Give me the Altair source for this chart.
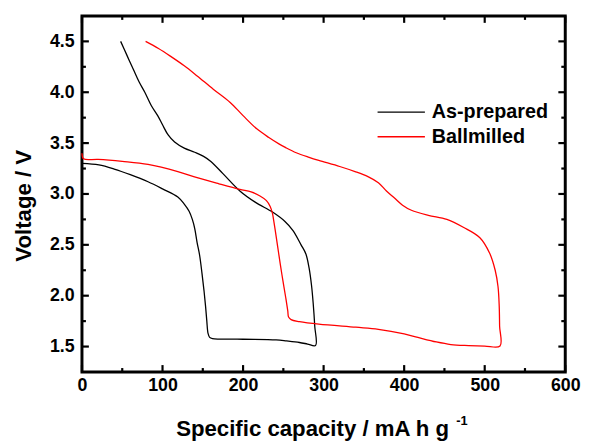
import altair as alt
import pandas as pd

# ---------------- data ----------------
series_names = ["As-prepared", "Ballmilled"]
series_colors = ["#000000", "#ff0000"]

asprep_x = [48, 56, 64, 71, 78, 86, 94, 100, 107, 115, 127, 140, 151, 160, 175, 196,
            215, 237, 252, 262, 272, 278, 282, 285, 287, 289, 290,
            280, 270, 254, 241, 200, 162, 158.5, 156.5, 155, 153.5, 151.5, 149, 146,
            143, 140, 137, 133, 127, 119, 100, 82, 60, 40, 21, 0]
asprep_y = [4.50, 4.36, 4.22, 4.10, 4.00, 3.87, 3.77, 3.68, 3.58, 3.51, 3.45, 3.41, 3.37, 3.32, 3.20, 3.03,
            2.92, 2.82, 2.73, 2.64, 2.50, 2.41, 2.27, 2.10, 1.93, 1.70, 1.51,
            1.525, 1.54, 1.555, 1.565, 1.572, 1.578, 1.59, 1.63, 1.75, 1.89, 2.05, 2.22, 2.40,
            2.52, 2.66, 2.75, 2.83, 2.90, 2.97, 3.05, 3.12, 3.19, 3.245, 3.285, 3.30]

ball_x = [79, 95, 110.6, 127, 143, 163, 184, 200, 217, 232, 245, 253, 266, 282, 294, 320, 339,
          355, 368, 378, 388, 398, 409, 430, 453, 474, 494, 506, 513, 516.5, 518, 518.5, 519,
          500, 480, 458, 440, 417, 400, 368, 340, 294, 270, 259.6, 256.5, 255.5, 253, 249.4,
          246, 243, 240, 238, 236.5, 233.5, 229, 221, 210, 196, 170, 143, 119, 82, 50, 20, 2, 0]
ball_y = [4.50, 4.43, 4.35, 4.26, 4.16, 4.03, 3.90, 3.77, 3.64, 3.555, 3.49, 3.455, 3.405, 3.36, 3.33, 3.27, 3.22,
          3.17, 3.11, 3.03, 2.96, 2.89, 2.84, 2.79, 2.75, 2.67, 2.57, 2.42, 2.25, 2.09, 1.90, 1.70, 1.505,
          1.505, 1.51, 1.52, 1.545, 1.59, 1.625, 1.67, 1.69, 1.72, 1.745, 1.765, 1.79, 1.85, 1.98, 2.15,
          2.32, 2.48, 2.64, 2.74, 2.81, 2.88, 2.935, 2.98, 3.02, 3.045, 3.10, 3.16, 3.22, 3.29, 3.32, 3.34, 3.345, 3.40]

x_major = [0, 100, 200, 300, 400, 500, 600]
x_minor = [50, 150, 250, 350, 450, 550]
y_major = [1.5, 2.0, 2.5, 3.0, 3.5, 4.0, 4.5]
y_minor = [1.75, 2.25, 2.75, 3.25, 3.75, 4.25]

# ---------------- tables ----------------
rows = []
for name, xs, ys in [(series_names[0], asprep_x, asprep_y), (series_names[1], ball_x, ball_y)]:
    for i, (xv, yv) in enumerate(zip(xs, ys)):
        rows.append({"series": name, "capacity": xv, "voltage": yv, "order": i})
df = pd.DataFrame(rows)

xt_major = pd.DataFrame({"capacity": x_major})
xt_minor = pd.DataFrame({"capacity": x_minor})
yt_major = pd.DataFrame({"voltage": y_major})
yt_minor = pd.DataFrame({"voltage": y_minor})

W, H = 490, 361
MAJ, MIN = 7, 4
FONT = "Liberation Sans"

xscale = alt.Scale(domain=[0, 600], nice=False, zero=False)
yscale = alt.Scale(domain=[1.25, 4.75], nice=False, zero=False)

# main curves with labelled axes
main = alt.Chart(df).mark_line(strokeWidth=1.3, interpolate="catmull-rom").encode(
    x=alt.X("capacity:Q", scale=xscale, axis=alt.Axis(
        orient="bottom", values=x_major, ticks=False, tickSize=0, domain=False, grid=False,
        labelPadding=5, labelFlush=False, labelOverlap=False,
        title="Specific capacity / mA h g", titleX=95, titleY=64, titleAlign="left",
        titleBaseline="alphabetic")),
    y=alt.Y("voltage:Q", scale=yscale, axis=alt.Axis(
        orient="left", values=y_major, format=".1f", ticks=False, tickSize=0, domain=False,
        grid=False, labelPadding=8, labelFlush=False, labelOverlap=False,
        title="Voltage / V", titleAngle=270, titleX=-52, titleY=192, titleAlign="center",
        titleBaseline="alphabetic")),
    color=alt.Color("series:N", scale=alt.Scale(domain=series_names, range=series_colors),
                    legend=alt.Legend(orient="none", legendX=298.7, legendY=87.5, title=None,
                                      symbolType="stroke", symbolSize=2304, symbolStrokeWidth=1.3,
                                      clipHeight=20, rowPadding=5, labelOffset=6, padding=0,
                                      labelFont=FONT, labelFontSize=20, labelFontWeight="bold",
                                      labelColor="black", labelLimit=300)),
    order="order:Q",
)


# inward ticks on all four sides (positions through the scales)
def xticks(data, y0, y1):
    return alt.Chart(data).mark_rule(color="black", strokeWidth=2.2).encode(
        x=alt.X("capacity:Q", scale=xscale, axis=None),
        y=alt.value(y0), y2=alt.value(y1))


def yticks(data, x0, x1):
    return alt.Chart(data).mark_rule(color="black", strokeWidth=2.2).encode(
        y=alt.Y("voltage:Q", scale=yscale, axis=None),
        x=alt.value(x0), x2=alt.value(x1))


tick_layers = [
    xticks(xt_major, H, H - MAJ), xticks(xt_minor, H, H - MIN),
    xticks(xt_major, 0, MAJ), xticks(xt_minor, 0, MIN),
    yticks(yt_major, 0, MAJ), yticks(yt_minor, 0, MIN),
    yticks(yt_major, W, W - MAJ), yticks(yt_minor, W, W - MIN),
]

# superscript of the x-axis title, as a second axis title
superscript = alt.Chart(df).mark_line(strokeOpacity=0).encode(
    x=alt.X("capacity:Q", scale=xscale, axis=alt.Axis(
        orient="bottom", ticks=False, labels=False, domain=False, grid=False,
        title="-1", titleFontSize=13, titleX=379, titleY=53, titleAlign="left",
        titleBaseline="alphabetic")),
    y=alt.Y("voltage:Q", scale=yscale, axis=None),
    detail="series:N",
    order="order:Q",
)

chart = alt.layer(
    superscript, main, *tick_layers
).resolve_axis(
    x="independent", y="independent"
).properties(
    width=W, height=H,
    autosize=alt.AutoSizeParams(type="none"),
    padding={"left": 75, "top": 5, "right": 19, "bottom": 73},
    background="white",
).configure_view(
    stroke="black", strokeWidth=3
).configure_axis(
    labelFont=FONT, labelFontSize=18, labelFontWeight="bold", labelColor="black",
    titleFont=FONT, titleFontSize=22.5, titleFontWeight="bold", titleColor="black",
)

chart.save("out.html", embed_options={"renderer": "svg", "actions": False})
